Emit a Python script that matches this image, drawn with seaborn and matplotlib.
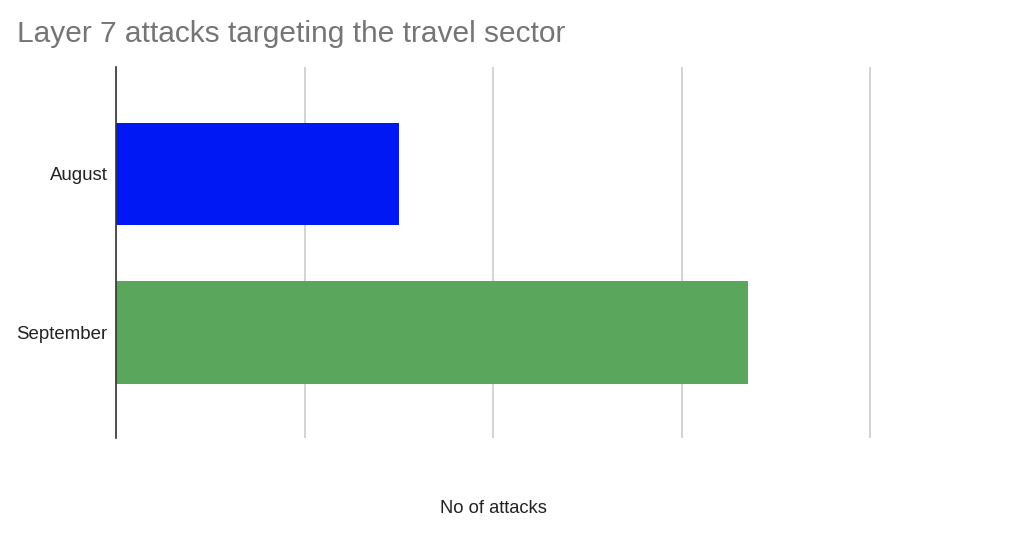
import matplotlib
matplotlib.use("Agg")
import matplotlib.pyplot as plt
import seaborn as sns
import pandas as pd

months = ["August", "September"]
attacks = [1.5, 3.35]
bar_colors = ["#0019F4", "#5AA65C"]
x_ticks = [0, 1, 2, 3, 4]

sns.set_theme(style="white")
plt.rcParams["font.family"] = ["Liberation Sans", "DejaVu Sans"]

df = pd.DataFrame({"month": months, "attacks": attacks})

fig = plt.figure(figsize=(10.24, 5.57), dpi=100)
ax = fig.add_axes([116/1024, 1-438/557, (871-116)/1024, (438-67)/557])

sns.barplot(data=df, y="month", x="attacks", hue="month", palette=bar_colors,
            orient="h", width=0.645, legend=False, ax=ax, saturation=1,
            edgecolor="none")

ax.set_xlim(0, 4.004)
ax.set_ylim(1.666, -0.675)
ax.set_xticks(x_ticks)
ax.set_xticklabels([])
ax.tick_params(axis="x", length=0)
ax.tick_params(axis="y", length=0, labelsize=13.4, labelcolor="#222222", pad=6)
ax.xaxis.grid(True, color="#cccccc", linewidth=1.2)
ax.set_axisbelow(True)
for s in ["top", "right", "bottom"]:
    ax.spines[s].set_visible(False)
ax.spines["left"].set_color("#333333")
ax.spines["left"].set_linewidth(1.2)
ax.set_ylabel("")
ax.set_xlabel("No of attacks", fontsize=13.2, color="#222222", labelpad=41)

fig.text(17/1024, 1-33.5/557, "Layer 7 attacks targeting the travel sector",
         fontsize=21.5, color="#757575", ha="left", va="center")

fig.savefig("out.png", dpi=100)
